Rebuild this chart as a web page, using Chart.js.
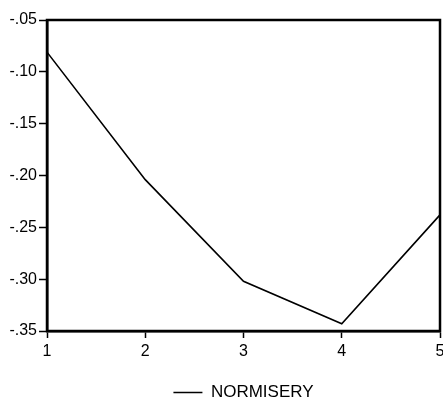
<!DOCTYPE html>
<html>
<head>
<meta charset="utf-8">
<script src="https://cdn.jsdelivr.net/npm/chart.js@4"></script>
<style>
  html, body { margin: 0; padding: 0; background: #fff; }
  #wrap { width: 443px; height: 401px; }
</style>
</head>
<body>
<div id="wrap"><canvas id="chart" width="443" height="401"></canvas></div>
<script>
// --- DATA ---
const periods = ['1', '2', '3', '4', '5'];
const normisery = [-0.081, -0.204, -0.302, -0.343, -0.238];
const yTicks = [-0.35, -0.30, -0.25, -0.20, -0.15, -0.10, -0.05];

// draws the box around the plot area (top + right sides too)
const frame = {
    id: 'frame',
    afterLayout(chart) {
        // center the legend under the plot area rather than the whole canvas
        const l = chart.legend, a = chart.chartArea;
        const shift = (a.left + a.right) / 2 - (l.left + l.right) / 2;
        l.left += shift;
        l.right += shift;
    },
    afterDatasetsDraw(chart) {
        const { ctx, chartArea: a } = chart;
        ctx.save();
        ctx.strokeStyle = '#000';
        ctx.lineWidth = 2.5;
        ctx.strokeRect(a.left, a.top, a.right - a.left, a.bottom - a.top);
        ctx.restore();
    }
};

const tickFont = { family: 'Liberation Sans, Arial', size: 16 };

new Chart(document.getElementById('chart'), {
    type: 'line',
    data: {
        labels: periods,
        datasets: [{
            label: 'NORMISERY',
            data: normisery,
            borderColor: '#000',
            backgroundColor: '#000',
            borderWidth: 1.6,
            pointRadius: 0,
            tension: 0
        }]
    },
    options: {
        responsive: false,
        animation: false,
        layout: { padding: { top: 20, right: 3, left: 0, bottom: -10 } },
        plugins: {
            tooltip: { enabled: false },
            legend: {
                position: 'bottom',
                labels: {
                    color: '#000',
                    font: { family: 'Liberation Sans, Arial', size: 17 },
                    usePointStyle: true,
                    pointStyle: 'line',
                    pointStyleWidth: 29,
                    boxHeight: 2,
                    padding: 4
                }
            }
        },
        scales: {
            x: {
                offset: false,
                grid: { drawOnChartArea: false, color: '#000', tickLength: 7, tickWidth: 1.5 },
                border: { color: '#000', width: 2.5 },
                ticks: { color: '#000', font: tickFont, padding: 4, maxRotation: 0 },
                afterFit(scale) {
                    scale.height = 49;
                    scale.paddingLeft = 0;
                    scale.paddingRight = 0;
                }
            },
            y: {
                min: -0.35,
                max: -0.05,
                afterBuildTicks(scale) { scale.ticks = yTicks.map(v => ({ value: v })); },
                grid: { drawOnChartArea: false, color: '#000', tickLength: 8, tickWidth: 1.5 },
                border: { color: '#000', width: 2.5 },
                ticks: {
                    color: '#000', font: tickFont, padding: 2,
                    callback: v => v.toFixed(2).replace('0.', '.')
                },
                afterFit(scale) {
                    scale.width = 47;
                    scale.paddingTop = 0;
                    scale.paddingBottom = 0;
                }
            }
        }
    },
    plugins: [frame]
});
</script>
</body>
</html>
